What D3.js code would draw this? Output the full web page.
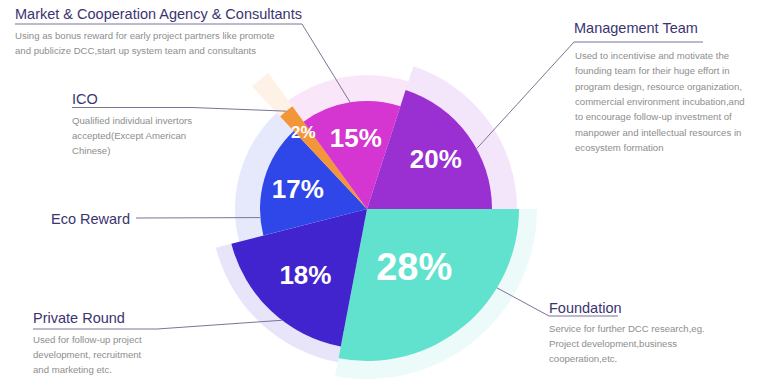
<!DOCTYPE html>
<html>
<head>
<meta charset="utf-8">
<script src="https://cdn.jsdelivr.net/npm/d3@7"></script>
<style>
  body { margin: 0; background: #ffffff; }
  text { font-family: "Liberation Sans", Arial, sans-serif; }
</style>
</head>
<body>
<div id="pie"></div>
<script>
// data
var categories = ["Management Team", "Foundation", "Private Round", "Eco Reward", "ICO", "Market & Cooperation Agency & Consultants"]
var shares = [20, 28, 18, 17, 2, 15]
var descriptions = [
    ["Used to incentivise and motivate the", "founding team for their huge effort in", "program design, resource organization,",
     "commercial environment incubation,and", "to encourage follow-up investment of", "manpower and intellectual resources in", "ecosystem formation"],
    ["Service for further DCC research,eg.", "Project development,business", "cooperation,etc."],
    ["Used for follow-up project", "development, recruitment", "and marketing etc."],
    [],
    ["Qualified individual invertors", "accepted(Except American", "Chinese)"],
    ["Using as bonus reward for early project partners like promote", "and publicize DCC,start up system team and consultants"]
]

// styles
var width = 768
    height = 390
var cx = 367, cy = 209
var colors = ["#9a30d2", "#60e2ce", "#4224cf", "#2f46e8", "#f3963a", "#d535d0"]
var sliceR = [125, 152, 140, 107, 127, 108]
var ringR = [150, 170, 156, 132, 168, 134]
var pctSize = [26, 38, 26, 26, 17, 26]
var pctR = [85, 74, 90, 72, 100, 72]

// label placement: title anchor, underline, elbow and where along the slice the line lands
var labelPos = [
    {x: 574, y: 33, uy: 42, ux2: 703, ex: 574, t: 0.6},
    {x: 549, y: 313, uy: 316, ux2: 618, ex: 549, t: 0.31},
    {x: 33, y: 323, uy: 329, ux2: 157, ex: 157, t: 0.41},
    {x: 51, y: 224, uy: 218, ux2: 136, ex: 136, t: 0.16, noUnderline: true},
    {x: 72, y: 104, uy: 107.5, ux2: 192, ex: 192, t: 0.5},
    {x: 15, y: 18.5, uy: 24, ux2: 302, ex: 302, t: 0.5}
]
var descStart = [59, 331.5, 342.5, 0, 123.5, 38.5]

var svg = d3.select("#pie")
    .append("svg")
        .attr("width", width)
        .attr("height", height)

var g = svg.append("g")
    .attr("transform", "translate(" + cx + "," + cy + ")")

var start = 18 * Math.PI / 180
var pie = d3.pie()
    .sort(null)
    .value(function(d) { return d.value })
    .startAngle(start)
    .endAngle(start + 2 * Math.PI)

var data = categories.map(function(c, i) { return {key: c, value: shares[i], i: i} })
var arcs = pie(data)

// faint background rings behind each slice
g.selectAll("path.ring")
    .data(arcs)
    .enter()
    .append("path")
        .attr("class", "ring")
        .attr("d", function(d) { return d3.arc().innerRadius(0).outerRadius(ringR[d.data.i])(d) })
        .attr("fill", function(d) { return colors[d.data.i] })
        .attr("fill-opacity", 0.12)

// slices
g.selectAll("path.slice")
    .data(arcs)
    .enter()
    .append("path")
        .attr("class", "slice")
        .attr("d", function(d) { return d3.arc().innerRadius(0).outerRadius(sliceR[d.data.i])(d) })
        .attr("fill", function(d) { return colors[d.data.i] })

// percent labels
g.selectAll("text.pct")
    .data(arcs)
    .enter()
    .append("text")
        .attr("class", "pct")
        .attr("transform", function(d) {
            var r = pctR[d.data.i]
            var c = d3.arc().innerRadius(r).outerRadius(r).centroid(d)
            return "translate(" + c[0] + "," + c[1] + ")"
        })
        .attr("text-anchor", "middle")
        .attr("dy", "0.36em")
        .attr("fill", "#ffffff")
        .attr("font-weight", "bold")
        .attr("font-size", function(d) { return pctSize[d.data.i] + "px" })
        .text(function(d) { return d.data.value + "%" })

// leader lines
function target(d) {
    var a = d.startAngle + (d.endAngle - d.startAngle) * labelPos[d.data.i].t
    var r = sliceR[d.data.i]
    return [cx + r * Math.sin(a), cy - r * Math.cos(a)]
}

svg.selectAll("path.leader")
    .data(arcs)
    .enter()
    .append("path")
        .attr("class", "leader")
        .attr("d", function(d) {
            var p = labelPos[d.data.i]
            var t = target(d)
            if (p.noUnderline) return "M" + p.ux2 + "," + p.uy + "L" + t[0] + "," + t[1]
            return "M" + p.x + "," + p.uy + "H" + p.ux2 + "M" + p.ex + "," + p.uy + "L" + t[0] + "," + t[1]
        })
        .attr("fill", "none")
        .attr("stroke", "#7a7596")
        .attr("stroke-width", 1)

// titles
svg.selectAll("text.title")
    .data(arcs)
    .enter()
    .append("text")
        .attr("class", "title")
        .attr("x", function(d) { return labelPos[d.data.i].x })
        .attr("y", function(d) { return labelPos[d.data.i].y })
        .attr("fill", "#3b3470")
        .attr("font-size", "14.5px")
        .text(function(d) { return d.data.key })

// descriptions
arcs.forEach(function(d) {
    var i = d.data.i
    svg.append("g")
        .selectAll("text")
        .data(descriptions[i])
        .enter()
        .append("text")
            .attr("x", labelPos[i].x + (i == 0 ? 1 : 0))
            .attr("y", function(line, k) { return descStart[i] + k * 15.3 })
            .attr("fill", "#8e8e8e")
            .attr("font-size", "9.6px")
            .text(function(line) { return line })
})
</script>
</body>
</html>
